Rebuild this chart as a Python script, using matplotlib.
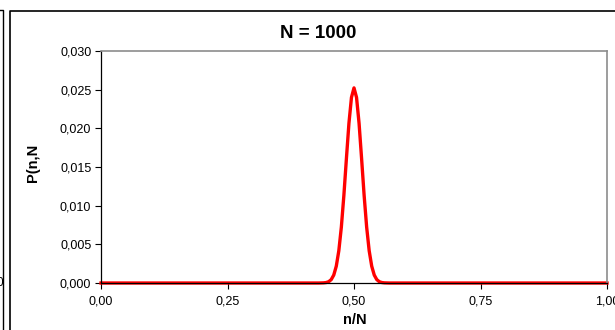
import matplotlib.pyplot as plt
from matplotlib.lines import Line2D
from matplotlib.ticker import FuncFormatter

plt.rcParams['font.family'] = ['Liberation Sans', 'DejaVu Sans']

# binomial distribution, N = 1000
n_over_N = [0.00, 0.43, 0.435, 0.44, 0.445, 0.45, 0.455, 0.46, 0.465, 0.47, 0.475,
            0.48, 0.485, 0.49, 0.495, 0.50, 0.505, 0.51, 0.515, 0.52, 0.525,
            0.53, 0.535, 0.54, 0.545, 0.55, 0.555, 0.56, 0.565, 0.57, 1.00]
P_nN = [0.0, 0.0, 0.00001, 0.00002, 0.00006, 0.00017, 0.00044, 0.00103, 0.00218, 0.00417, 0.00723,
        0.01134, 0.01609, 0.02066, 0.02400, 0.02523, 0.02400, 0.02066, 0.01609, 0.01134, 0.00723,
        0.00417, 0.00218, 0.00103, 0.00044, 0.00017, 0.00006, 0.00002, 0.00001, 0.0, 0.0]
x_ticks = [0.0, 0.25, 0.5, 0.75, 1.0]
y_ticks = [0.000, 0.005, 0.010, 0.015, 0.020, 0.025, 0.030]

W, H = 615, 330
fig = plt.figure(figsize=(W / 100, H / 100), dpi=100)
fig.patch.set_facecolor('white')
ax = fig.add_axes([101 / W, 1 - 283 / H, (607 - 101) / W, (283 - 51) / H])

ax.plot(n_over_N, P_nN, color='#ff0000', lw=2.4, solid_joinstyle='round', clip_on=False)
ax.set_xlim(0, 1)
ax.set_ylim(0, 0.03)
ax.set_xticks(x_ticks)
ax.set_yticks(y_ticks)
ax.xaxis.set_major_formatter(FuncFormatter(lambda v, p: f"{v:.2f}".replace('.', ',')))
ax.yaxis.set_major_formatter(FuncFormatter(lambda v, p: f"{v:.3f}".replace('.', ',')))
ax.tick_params(direction='out', length=4, width=0.8, labelsize=9, colors='black', pad=3)
ax.tick_params(axis='x', pad=5)

for s in ['left', 'bottom']:
    ax.spines[s].set_color('black')
    ax.spines[s].set_linewidth(0.9)
for s in ['top', 'right']:
    ax.spines[s].set_color('#8c8c8c')
    ax.spines[s].set_linewidth(1.2)

fig.text(318 / W, 1 - 33 / H, 'N = 1000', ha='center', va='center',
         fontsize=13.5, fontweight='bold')
fig.text(33 / W, 1 - 163 / H, 'P(n,N', ha='center', va='center', rotation=90,
         fontsize=10.5, fontweight='bold')
fig.text(355 / W, 1 - 320 / H, 'n/N', ha='center', va='center',
         fontsize=10.5, fontweight='bold')

# chart frames (this one and the neighbouring chart cut at the left edge)
fig.add_artist(Line2D([10 / W, 10 / W, 1], [0, 1 - 11 / H, 1 - 11 / H],
                      transform=fig.transFigure, color='black', lw=1.2))
fig.add_artist(Line2D([0, 3 / W, 3 / W], [1 - 10 / H, 1 - 10 / H, 0],
                      transform=fig.transFigure, color='black', lw=1.0))
fig.text(3 / W, 1 - 283 / H, '0', ha='right', va='center', fontsize=8.5)

fig.savefig('out.png', dpi=100)
